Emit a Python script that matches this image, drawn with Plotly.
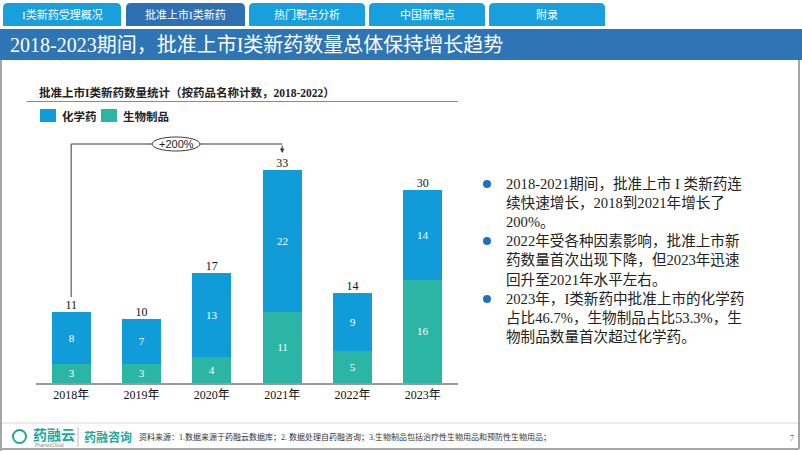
import plotly.graph_objects as go

# ---------------- data ----------------
years = ["2018年", "2019年", "2020年", "2021年", "2022年", "2023年"]
chem = [8, 7, 13, 22, 9, 14]          # 化学药
bio = [3, 3, 4, 11, 5, 16]            # 生物制品
totals = [c + b for c, b in zip(chem, bio)]

tabs = ["I类新药受理概况", "批准上市I类新药", "热门靶点分析", "中国新靶点", "附录"]
title = "2018-2023期间，批准上市I类新药数量总体保持增长趋势"
subtitle = "批准上市I类新药数量统计（按药品名称计数，2018-2022）"
bullet_lines = [
    ["2018-2021期间，批准上市 I 类新药连", "续快速增长，2018到2021年增长了", "200%。"],
    ["2022年受各种因素影响，批准上市新", "药数量首次出现下降，但2023年迅速", "回升至2021年水平左右。"],
    ["2023年，I类新药中批准上市的化学药", "占比46.7%，生物制品占比53.3%，生", "物制品数量首次超过化学药。"],
]
source = "资料来源：1.数据来源于药融云数据库；2. 数据处理自药融咨询；3.生物制品包括治疗性生物用品和预防性生物用品；"

W, H = 802, 451
SERIF = "Liberation Serif, Noto Sans CJK SC, serif"
SANS = "Liberation Sans, Noto Sans CJK SC, sans-serif"
C_CHEM = "#0f9cd8"
C_BIO = "#2bb5a5"
C_TAB = "#17a0dc"
C_TAB_ACT = "#2f70b2"
C_BAR = "#2e75b6"
C_TEAL = "#1aa99a"


def px(x):
    return x / W


def py(y):
    return 1 - y / H


# axis geometry (pixels)
X_LEFT, X_RIGHT = 36, 458
Y_BASE, Y_TOP = 383, 130
PX_PER_UNIT = 6.45
y_max = (Y_BASE - Y_TOP) / PX_PER_UNIT


def yv(p):
    return (Y_BASE - p) / PX_PER_UNIT


fig = go.Figure()
fig.add_trace(go.Bar(
    x=years, y=bio, name="生物制品", marker=dict(color=C_BIO, line=dict(width=0)),
    width=0.555, text=bio, textposition="inside", insidetextanchor="middle",
    textfont=dict(color="white", size=12, family=SERIF), showlegend=False,
    textangle=0,
))
fig.add_trace(go.Bar(
    x=years, y=chem, name="化学药", marker=dict(color=C_CHEM, line=dict(width=0)),
    width=0.555, text=chem, textposition="inside", insidetextanchor="middle",
    textfont=dict(color="white", size=12, family=SERIF), showlegend=False,
    textangle=0,
))
fig.add_trace(go.Scatter(
    x=years, y=totals, mode="text", text=[str(t) for t in totals],
    textposition="top center", textfont=dict(color="#111", size=12, family=SERIF),
    showlegend=False, cliponaxis=False,
))

shapes = []
annotations = []

# tabs
tab_x = [(3, 121), (126, 245), (249, 365), (369, 485), (489, 605)]
for i, ((x0, x1), t) in enumerate(zip(tab_x, tabs)):
    rx, ry = 5 / W, 5 / H
    X0, X1, Y0, Y1 = px(x0), px(x1), py(3), py(26)
    path = (f"M {X0},{Y1} L {X0},{Y0 - ry} Q {X0},{Y0} {X0 + rx},{Y0} "
            f"L {X1 - rx},{Y0} Q {X1},{Y0} {X1},{Y0 - ry} L {X1},{Y1} Z")
    shapes.append(dict(type="path", xref="paper", yref="paper", path=path,
                       fillcolor=C_TAB_ACT if i == 1 else C_TAB, line=dict(width=0)))
    annotations.append(dict(x=px((x0 + x1) / 2), y=py(15), xref="paper", yref="paper",
                            text=t, showarrow=False, xanchor="center", yanchor="middle",
                            font=dict(color="white", size=11, family=SERIF)))

# title bar
shapes.append(dict(type="rect", xref="paper", yref="paper", x0=0, x1=1, y0=py(60), y1=py(29),
                   fillcolor=C_BAR, line=dict(width=0)))
annotations.append(dict(x=px(8), y=py(45), xref="paper", yref="paper", text=title,
                        showarrow=False, xanchor="left", yanchor="middle",
                        font=dict(color="white", size=20, family=SERIF)))

# frame
frame_c = "#a6a6a6"
shapes.append(dict(type="line", xref="paper", yref="paper", x0=px(1), x1=px(1), y0=py(60), y1=py(451),
                   line=dict(color=frame_c, width=2)))
shapes.append(dict(type="line", xref="paper", yref="paper", x0=px(799), x1=px(799), y0=py(60), y1=py(449),
                   line=dict(color=frame_c, width=2)))
shapes.append(dict(type="line", xref="paper", yref="paper", x0=px(1), x1=px(799), y0=py(449), y1=py(449),
                   line=dict(color=frame_c, width=2)))
shapes.append(dict(type="line", xref="paper", yref="paper", x0=px(2), x1=px(798), y0=py(423), y1=py(423),
                   line=dict(color="#e3e3e3", width=1.5)))

# chart subtitle + underline
annotations.append(dict(x=px(37), y=py(92), xref="paper", yref="paper", text="<b>" + subtitle + "</b>",
                        showarrow=False, xanchor="left", yanchor="middle",
                        font=dict(color="#222", size=11.5, family=SERIF)))
shapes.append(dict(type="line", xref="paper", yref="paper", x0=px(27), x1=px(458), y0=py(101.5), y1=py(101.5),
                   line=dict(color="#3aa6d6", width=1.2)))

# legend (manual)
for (x0, color, label) in [(40, C_CHEM, "化学药"), (101, C_BIO, "生物制品")]:
    shapes.append(dict(type="rect", xref="paper", yref="paper", x0=px(x0), x1=px(x0 + 16),
                       y0=py(122), y1=py(109), fillcolor=color, line=dict(width=0)))
    annotations.append(dict(x=px(x0 + 20), y=py(116), xref="paper", yref="paper", text="<b>" + label + "</b>",
                            showarrow=False, xanchor="left", yanchor="middle",
                            font=dict(color="#222", size=11.5, family=SERIF)))

# growth bracket
br_c = "#3a3a3a"
shapes.append(dict(type="line", xref="x", yref="y", x0=0, x1=0, y0=yv(297), y1=yv(144),
                   line=dict(color=br_c, width=1)))
shapes.append(dict(type="line", xref="x", yref="y", x0=0, x1=3, y0=yv(144), y1=yv(144),
                   line=dict(color=br_c, width=1)))
shapes.append(dict(type="circle", xref="paper", yref="paper", x0=px(152), x1=px(200),
                   y0=py(151), y1=py(137), fillcolor="white", line=dict(color=br_c, width=1)))
annotations.append(dict(x=px(176), y=py(144), xref="paper", yref="paper", text="+200%",
                        showarrow=False, xanchor="center", yanchor="middle",
                        font=dict(color="#222", size=11, family=SANS)))
annotations.append(dict(x=3, y=yv(153), xref="x", yref="y", ax=0, ay=-9, text="",
                        showarrow=True, arrowhead=2, arrowsize=0.9, arrowwidth=1, arrowcolor=br_c))

# bullet text
line_y = [184, 203, 222, 241, 260, 280, 299, 318, 337]
k = 0
for para in bullet_lines:
    shapes.append(dict(type="circle", xref="paper", yref="paper", x0=px(483), x1=px(491),
                       y0=py(line_y[k] + 4), y1=py(line_y[k] - 4), fillcolor="#1f6fc5",
                       line=dict(width=0)))
    for ln in para:
        annotations.append(dict(x=px(504), y=py(line_y[k]), xref="paper", yref="paper", text=ln,
                                showarrow=False, xanchor="left", yanchor="middle",
                                font=dict(color="#222", size=14.6, family=SERIF)))
        k += 1

# footer
shapes.append(dict(type="circle", xref="paper", yref="paper", x0=px(13), x1=px(26),
                   y0=py(443), y1=py(430), fillcolor="white", line=dict(color=C_TEAL, width=2)))
annotations.append(dict(x=px(31), y=py(435), xref="paper", yref="paper", text="<b>药融云</b>",
                        showarrow=False, xanchor="left", yanchor="middle",
                        font=dict(color=C_TEAL, size=14, family=SANS)))
annotations.append(dict(x=px(33), y=py(445), xref="paper", yref="paper", text="PharnexCloud",
                        showarrow=False, xanchor="left", yanchor="middle",
                        font=dict(color="#888", size=4.5, family=SANS)))
shapes.append(dict(type="line", xref="paper", yref="paper", x0=px(78), x1=px(78), y0=py(447), y1=py(427),
                   line=dict(color="#bbb", width=1)))
annotations.append(dict(x=px(82), y=py(437), xref="paper", yref="paper", text="<b>药融咨询</b>",
                        showarrow=False, xanchor="left", yanchor="middle",
                        font=dict(color=C_TEAL, size=12, family=SANS)))
annotations.append(dict(x=px(137), y=py(437), xref="paper", yref="paper", text=source,
                        showarrow=False, xanchor="left", yanchor="middle",
                        font=dict(color="#333", size=8, family=SERIF)))
annotations.append(dict(x=px(792), y=py(438), xref="paper", yref="paper", text="7",
                        showarrow=False, xanchor="center", yanchor="middle",
                        font=dict(color="#555", size=8, family=SERIF)))

fig.update_layout(
    width=W, height=H, margin=dict(l=0, r=0, t=0, b=0),
    paper_bgcolor="white", plot_bgcolor="white",
    barmode="stack", bargap=0.0,
    xaxis=dict(domain=[px(X_LEFT), px(X_RIGHT)], range=[-0.5, 5.5], type="category",
               showline=True, linecolor="#9a9a9a", linewidth=1.5, ticks="", showgrid=False,
               tickfont=dict(size=12, family=SERIF, color="#111"), zeroline=False),
    yaxis=dict(domain=[py(Y_BASE), py(Y_TOP)], range=[0, y_max], visible=False,
               showgrid=False, zeroline=False),
    shapes=shapes, annotations=annotations,
    uniformtext=dict(minsize=8, mode="show"),
)

fig.write_html("out.html", config={"displayModeBar": False},
               post_script="document.body.style.margin='0px';")
